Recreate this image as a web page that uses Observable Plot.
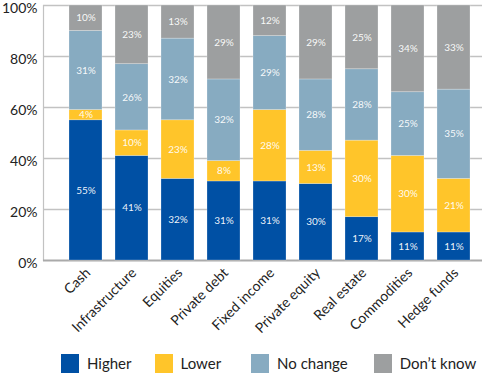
<!DOCTYPE html>
<html>
<head>
<meta charset="utf-8">
<script src="https://cdn.jsdelivr.net/npm/d3@7"></script>
<script src="https://cdn.jsdelivr.net/npm/@observablehq/plot@0.6"></script>
<style>
  body { margin: 0; background: #fff; font-family: Lato, "Open Sans", sans-serif; }
  #chart svg { display: block; overflow: visible; }
  .legend { display: flex; align-items: center; padding-top: 8px; padding-left: 61px; height: 20px; white-space: nowrap; font-size: 15px; color: #222; }
  .legend .item { display: flex; align-items: center; flex: none; }
  .legend .item:nth-child(1) { margin-right: 23px; }
  .legend .item:nth-child(2) { margin-right: 30px; }
  .legend .item:nth-child(3) { margin-right: 26px; }
  .legend .sw { width: 18px; height: 19px; margin-right: 8px; }
</style>
</head>
<body>
<div id="chart"></div>
<div class="legend" id="legend"></div>
<script>
const categories = ["Cash", "Infrastructure", "Equities", "Private debt", "Fixed income", "Private equity", "Real estate", "Commodities", "Hedge funds"];
const series = ["Higher", "Lower", "No change", "Don\u2019t know"];
const colors = ["#0050a4", "#ffc52a", "#87abc1", "#9d9fa0"];
const higher   = [55, 41, 32, 31, 31, 30, 17, 11, 11];
const lower    = [4, 10, 23, 8, 28, 13, 30, 30, 21];
const noChange = [31, 26, 32, 32, 29, 28, 28, 25, 35];
const dontKnow = [10, 23, 13, 29, 12, 29, 25, 34, 33];
const yTicks = [0, 20, 40, 60, 80, 100];

const seriesValues = [higher, lower, noChange, dontKnow];
const data = [];
series.forEach((s, si) => categories.forEach((c, ci) => data.push({category: c, series: s, value: seriesValues[si][ci]})));

const stackOpts = {x: "category", y: "value", z: "series", order: series};

const plot = Plot.plot({
  width: 482,
  height: 345,
  marginTop: 5,
  marginBottom: 85,
  marginLeft: 43,
  marginRight: 0,
  style: {fontFamily: "Lato, 'Open Sans', sans-serif", color: "#222", background: "white", overflow: "visible"},
  x: {domain: categories, paddingInner: 0.29, paddingOuter: 0.145, insetLeft: 17, insetRight: 4, label: null},
  y: {domain: [0, 100], label: null},
  color: {domain: series, range: colors},
  marks: [
    Plot.ruleY(yTicks.filter(d => d > 0), {stroke: "#c2c2c2", strokeWidth: 1.5}),
    Plot.frame({anchor: "left", stroke: "#c2c2c2", strokeWidth: 1.2}),
    Plot.ruleY([0], {stroke: "#aaaaaa", strokeWidth: 1.8}),
    Plot.barY(data, Plot.stackY({...stackOpts, fill: "series", stroke: "white", strokeOpacity: 0.3, strokeWidth: 0.8})),
    Plot.text(data, Plot.stackY({...stackOpts, text: d => d.value + "%", fill: "white", fontSize: 10, fillOpacity: 0.95})),
    Plot.axisY({ticks: yTicks, tickFormat: d => d + "%", tickSize: 0, tickPadding: 6, dy: 3, fontSize: 14, label: null}),
    Plot.axisX({tickSize: 0, tickRotate: -45, tickPadding: 10, dx: 2, fontSize: 14, label: null})
  ]
});
document.getElementById("chart").appendChild(plot);

const legend = d3.select("#legend");
series.forEach((s, i) => {
  const item = legend.append("div").attr("class", "item");
  item.append("div").attr("class", "sw").style("background", colors[i]);
  item.append("span").text(s);
});
</script>
</body>
</html>
